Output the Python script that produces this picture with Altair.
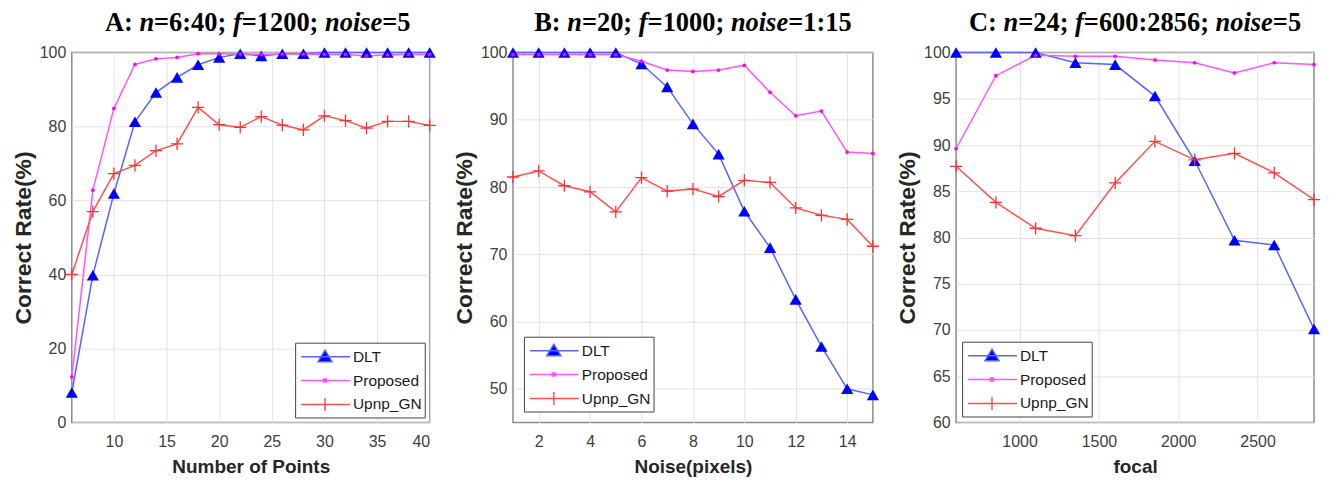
import altair as alt
import pandas as pd

series = ["DLT", "Proposed", "Upnp_GN"]

# Panel A: n = 6:40
a_x = [6, 8, 10, 12, 14, 16, 18, 20, 22, 24, 26, 28, 30, 32, 34, 36, 38, 40]
a_dlt = [8.1, 39.8, 61.9, 81.3, 89.2, 93.3, 96.7, 98.7, 99.7, 99.1, 99.7, 99.7, 100, 100, 100, 100, 100, 100]
a_prop = [12.3, 62.8, 84.9, 96.8, 98.3, 98.7, 99.7, 99.7, 99.6, 99.5, 99.6, 99.6, 99.5, 99.5, 99.1, 99.4, 99.5, 99.5]
a_upnp = [40.0, 57.0, 67.3, 69.5, 73.5, 75.3, 85.2, 80.5, 79.8, 82.7, 80.4, 79.1, 82.9, 81.6, 79.6, 81.4, 81.4, 80.3]

# Panel B: noise = 1:15
b_x = [1, 2, 3, 4, 5, 6, 7, 8, 9, 10, 11, 12, 13, 14, 15]
b_dlt = [100, 100, 100, 100, 100, 98.3, 94.9, 89.4, 84.9, 76.4, 71.0, 63.3, 56.3, 50.0, 49.1]
b_prop = [99.7, 99.7, 99.7, 99.7, 99.7, 98.7, 97.4, 97.2, 97.4, 98.1, 94.1, 90.6, 91.3, 85.2, 85.0]
b_upnp = [81.5, 82.4, 80.2, 79.3, 76.3, 81.4, 79.4, 79.7, 78.6, 81.0, 80.7, 76.9, 75.8, 75.2, 71.2]

# Panel C: f = 600:2856
c_x = [600, 850.7, 1101.3, 1352, 1602.7, 1853.3, 2104, 2354.7, 2605.3, 2856]
c_dlt = [100, 100, 100, 98.9, 98.7, 95.3, 88.3, 79.7, 79.2, 70.1]
c_prop = [89.6, 97.5, 99.7, 99.6, 99.6, 99.2, 98.9, 97.8, 98.9, 98.7]
c_upnp = [87.7, 83.8, 81.0, 80.2, 85.9, 90.4, 88.4, 89.1, 87.0, 84.1]

line_colors = ["#5566ff", "#ff55ff", "#ff5050"]
marker_colors = ["#0000ff", "#ff00ff", "#ff3030"]

LINE = "M-0.8,0H4.1"
legend_paths = [
    LINE + "M1.6,-0.65L2.3,0.5L0.9,0.5Z",
    LINE + "M1.45,-0.15H1.75V0.15H1.45Z",
    LINE + "M1.6,-0.65V0.65",
]
CROSS = "M-1,0H1M0,-1V1"

# Times (Liberation Serif) bold / bold-italic advance widths per 1000 em
UPRIGHT = {"A": 722, "B": 667, "C": 722, ":": 333, " ": 250, ";": 333, "=": 570}
ITALIC = {"n": 556, "f": 333, "o": 500, "i": 278, "s": 389, "e": 444}
TITLE_FS = 26.5


def text_width(s, italic):
    tot = 0
    for ch in s:
        if italic:
            tot += ITALIC.get(ch, 500)
        else:
            tot += UPRIGHT.get(ch, 500)
    return tot / 1000 * TITLE_FS


def title_layers(pieces, width, shift=0):
    flags = [False, True, False, True, False, True, False]
    total = sum(text_width(p, f) for p, f in zip(pieces, flags))
    px = (width - total) / 2 + shift
    layers = []
    for p, f in zip(pieces, flags):
        mk = dict(align="left", baseline="alphabetic", font="Liberation Serif",
                  fontSize=TITLE_FS, fontWeight="bold", color="black")
        if f:
            mk["fontStyle"] = "italic"
        layers.append(
            alt.Chart(pd.DataFrame({"t": [p]})).mark_text(**mk).encode(
                text="t:N", x=alt.value(px), y=alt.value(-22)
            )
        )
        px += text_width(p, f)
    return layers


def panel(xs, dlt, prop, upnp, xdomain, ydomain, xvals, yvals, xtitle,
          pieces, width, orient, offset, xformat, shift=0):
    rows = []
    for name, vals in zip(series, [dlt, prop, upnp]):
        for xv, yv in zip(xs, vals):
            rows.append({"x": xv, "y": yv, "series": name})
    df = pd.DataFrame(rows)
    base = alt.Chart(df)
    x = alt.X("x:Q", scale=alt.Scale(domain=xdomain, nice=False, zero=False),
              axis=alt.Axis(values=xvals, title=xtitle, format=xformat))
    y = alt.Y("y:Q", scale=alt.Scale(domain=ydomain, nice=False, zero=False),
              axis=alt.Axis(values=yvals, title="Correct Rate(%)"))

    lines = base.mark_line(strokeWidth=1.5).encode(
        x=x, y=y,
        color=alt.Color("series:N", scale=alt.Scale(domain=series, range=line_colors), legend=None),
    )
    tri = base.transform_filter(alt.datum.series == "DLT").mark_point(
        shape="triangle-up", filled=True, size=150, color=marker_colors[0], opacity=1
    ).encode(x=x, y=y)
    dots = base.transform_filter(alt.datum.series == "Proposed").mark_point(
        shape="circle", filled=True, size=14, color=marker_colors[1], opacity=1
    ).encode(x=x, y=y)
    crosses = base.transform_filter(alt.datum.series == "Upnp_GN").mark_point(
        shape=CROSS, filled=False, size=150, color=marker_colors[2], strokeWidth=1.3, opacity=1
    ).encode(x=x, y=y)

    leg = alt.Legend(
        title=None, orient=orient, offset=offset, padding=3, rowPadding=4,
        fillColor="white", strokeColor="#444444", symbolSize=400,
        symbolStrokeWidth=1.5, symbolOpacity=1, labelFont="Liberation Sans",
        labelFontSize=15.5, labelColor="#1a1a1a", labelOffset=33, cornerRadius=0,
    )
    legend_layer = base.mark_point(
        filled=True, size=1, strokeWidth=1.5, opacity=0, clip=True
    ).encode(
        x=x, y=y,
        fill=alt.Fill("series:N", scale=alt.Scale(domain=series, range=marker_colors), legend=leg),
        stroke=alt.Stroke("series:N", scale=alt.Scale(domain=series, range=line_colors), legend=leg),
        shape=alt.Shape("series:N", scale=alt.Scale(domain=series, range=legend_paths), legend=leg),
    )
    layers = [legend_layer, lines, tri, dots, crosses] + title_layers(pieces, width, shift)
    return alt.layer(*layers).properties(width=width, height=371)


pA = panel(a_x, a_dlt, a_prop, a_upnp, [6, 40], [0, 100],
           [10, 15, 20, 25, 30, 35, 40], [0, 20, 40, 60, 80, 100],
           "Number of Points", ["A: ", "n", "=6:40; ", "f", "=1200; ", "noise", "=5"],
           359, "bottom-right", 5, "d", shift=7)
pB = panel(b_x, b_dlt, b_prop, b_upnp, [1, 15], [45, 100],
           [2, 4, 6, 8, 10, 12, 14], [50, 60, 70, 80, 90, 100],
           "Noise(pixels)", ["B: ", "n", "=20; ", "f", "=1000; ", "noise", "=1:15"],
           361, "bottom-left", 11, "d")
pC = panel(c_x, c_dlt, c_prop, c_upnp, [600, 2856], [60, 100],
           [1000, 1500, 2000, 2500], [60, 65, 70, 75, 80, 85, 90, 95, 100],
           "focal", ["C: ", "n", "=24; ", "f", "=600:2856; ", "noise", "=5"],
           359, "bottom-left", 6, "d")

chart = alt.hconcat(pA, pB, pC, spacing=83.5, bounds="flush").resolve_scale(
    color="independent", fill="independent", stroke="independent", shape="independent"
).resolve_legend(
    color="independent", fill="independent", stroke="independent", shape="independent"
).properties(
    padding={"left": 3, "top": 0, "right": 0, "bottom": 0},
    background="white",
).configure_view(
    stroke="#8c8c8c", strokeWidth=1.5, fill="white"
).configure_axis(
    domain=False, ticks=False, grid=True, gridColor="#e2e2e2", gridWidth=1,
    labelFont="Liberation Sans", labelFontSize=16, labelColor="#404040",
    titleFont="Liberation Sans", titleFontWeight="bold", titleColor="#262626",
).configure_axisX(
    labelPadding=11, titlePadding=8, titleFontSize=19,
).configure_axisY(
    labelPadding=6, titlePadding=4, titleFontSize=23,
)

chart.save("out.html", embed_options={"renderer": "svg", "actions": False})
